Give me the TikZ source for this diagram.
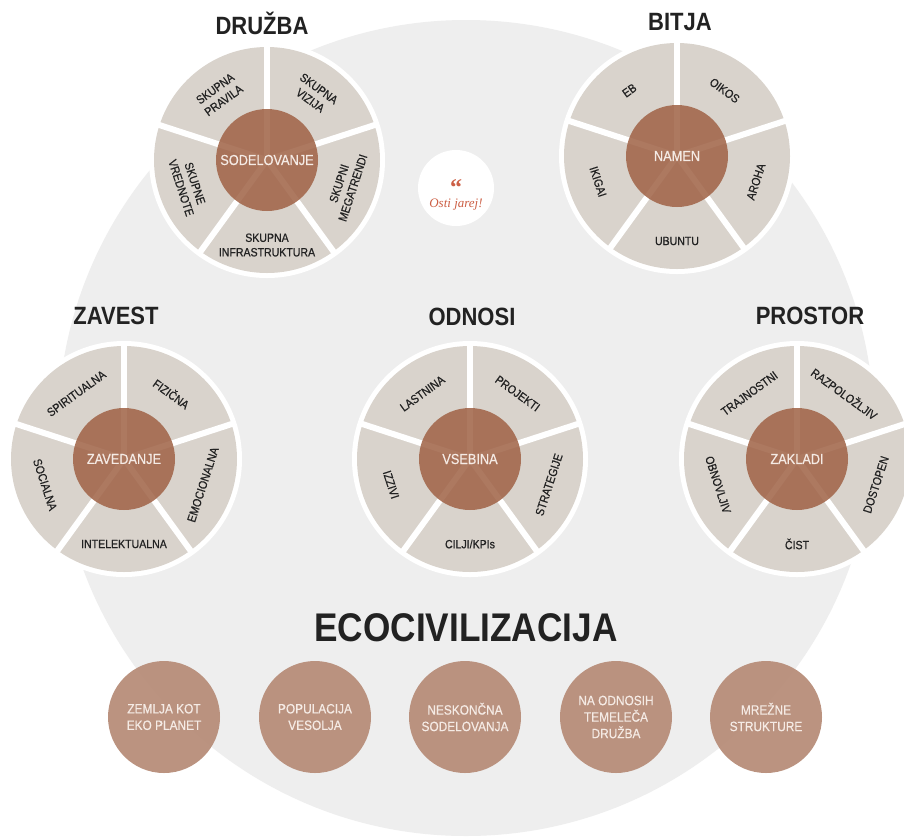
\documentclass[tikz,border=0pt]{standalone}
\usepackage{fontspec}
\setmainfont{Liberation Sans}[FakeStretch=0.88]
\newfontfamily\quotefont{Liberation Serif}
\definecolor{bgc}{HTML}{EEEEEE}
\definecolor{sect}{HTML}{D9D3CC}
\definecolor{hub}{HTML}{A06347}
\definecolor{ball}{HTML}{B78D79}
\definecolor{ink}{HTML}{222222}
\definecolor{hubtext}{HTML}{F5EBE5}
\definecolor{quotec}{HTML}{CC5F45}
\tikzset{
  seclabel/.style={text=ink, font=\addfontfeature{FakeBold=0.6}\fontsize{12}{14.5}\selectfont, align=center, inner sep=0pt},
  hublabel/.style={text=hubtext, font=\addfontfeature{FakeBold=0.5}\fontsize{14.5}{16}\selectfont, inner sep=0pt},
  wtitle/.style={text=ink, font=\bfseries\fontsize{25}{28}\selectfont, inner sep=0pt},
  bigtitle/.style={text=ink, font=\bfseries\fontsize{40}{42}\selectfont, inner sep=0pt},
  ballnode/.style={circle, minimum size=112pt, inner sep=0pt, fill=ball, fill opacity=0.94, text opacity=1,
    text=hubtext, align=center, font=\addfontfeature{FakeBold=0.5}\fontsize{13.5}{16.5}\selectfont},
  quotebox/.style={circle, minimum size=76pt, inner sep=0pt, fill=white},
}
% #1 name, #2 cx, #3 cy, #4 hub, #5 upper-left, #6 upper-right, #7 right, #8 bottom, #9 left
\newcommand\drawwheel[9]{%
  \begin{scope}[shift={(#2,#3)}]
    \fill[white] (0,0) circle (118pt);
    \fill[sect] (0,0) circle (113pt);
    \foreach \a in {90,18,-54,-126,162} \draw[white, line width=6pt] (0,0) -- (-\a:116);
    \fill[hub, fill opacity=0.86] (0,0) circle (51pt);
    \node[hublabel] (#1-hub) at (0,0) {#4};
    \node[seclabel, rotate=36]  (#1-ul) at (-126:81) {#5};
    \node[seclabel, rotate=-36] (#1-ur) at (-54:81) {#6};
    \node[seclabel, rotate=72]  (#1-r)  at (18:83) {#7};
    \node[seclabel]             (#1-b)  at (-270:85) {#8};
    \node[seclabel, rotate=-72] (#1-l)  at (-198:83) {#9};
  \end{scope}
}
\begin{document}
\begin{tikzpicture}[x=1pt,y=-1pt]
\clip (0,0) rectangle (904,836);
\fill[white] (0,0) rectangle (904,836);
\fill[bgc] (466,428) circle (408pt);

\drawwheel{druzba}{267}{160}{SODELOVANJE}{SKUPNA\\PRAVILA}{SKUPNA\\VIZIJA}{SKUPNI\\MEGATRENDI}{SKUPNA\\INFRASTRUKTURA}{SKUPNE\\VREDNOTE}
\drawwheel{bitja}{677}{156}{NAMEN}{EB}{OIKOS}{AROHA}{UBUNTU}{IKIGAI}
\drawwheel{zavest}{124}{459}{ZAVEDANJE}{SPIRITUALNA}{FIZIČNA}{EMOCIONALNA}{INTELEKTUALNA}{SOCIALNA}
\drawwheel{odnosi}{470}{459}{VSEBINA}{LASTNINA}{PROJEKTI}{STRATEGIJE}{CILJI/KPIs}{IZZIVI}
\drawwheel{prostor}{797}{459}{ZAKLADI}{TRAJNOSTNI}{RAZPOLOŽLJIV}{DOSTOPEN}{ČIST}{OBNOVLJIV}

\node[wtitle] (t-druzba) at (262,23) {DRUŽBA};
\node[wtitle] (t-bitja) at (680,22) {BITJA};
\node[wtitle] (t-zavest) at (116,316) {ZAVEST};
\node[wtitle] (t-odnosi) at (472,317) {ODNOSI};
\node[wtitle] (t-prostor) at (810,316) {PROSTOR};

\node[quotebox] (quote) at (456,188) {};
\node[text=quotec, font=\quotefont\bfseries\fontsize{24}{24}\selectfont, inner sep=0pt] (quote-mark) at (456,188) {“};
\node[text=quotec, font=\quotefont\itshape\fontsize{13}{14}\selectfont, inner sep=0pt] (quote-text) at (456,205) {Osti jarej!};

\node[bigtitle] (eco) at (466,628) {ECOCIVILIZACIJA};

\node[ballnode] (b1) at (164,717) {ZEMLJA KOT\\EKO PLANET};
\node[ballnode] (b2) at (315,717) {POPULACIJA\\VESOLJA};
\node[ballnode] (b3) at (465,717) {NESKONČNA\\SODELOVANJA};
\node[ballnode] (b4) at (616,717) {NA ODNOSIH\\TEMELEČA\\DRUŽBA};
\node[ballnode] (b5) at (766,717) {MREŽNE\\STRUKTURE};
\end{tikzpicture}
\end{document}
